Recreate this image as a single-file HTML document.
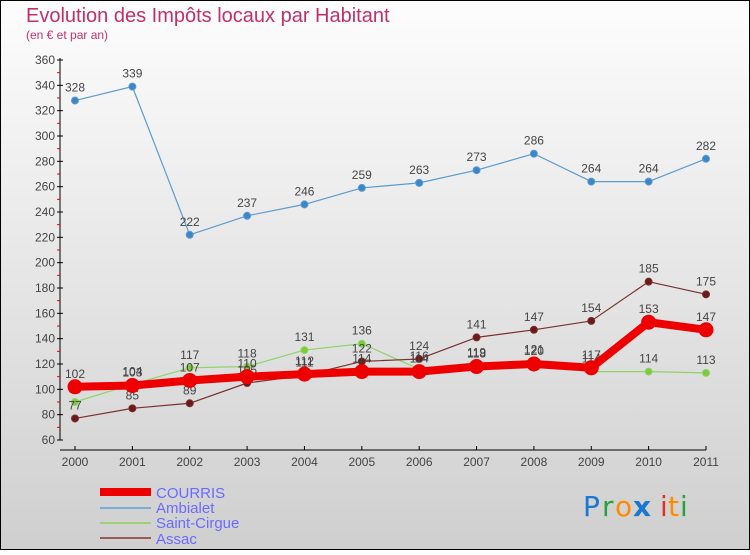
<!DOCTYPE html>
<html><head><meta charset="utf-8"><style>
body{margin:0;width:750px;height:550px;overflow:hidden;font-family:"Liberation Sans",sans-serif}
</style></head><body>
<svg width="750" height="550" viewBox="0 0 750 550">
<defs><linearGradient id="bg" x1="0" y1="0" x2="0" y2="1"><stop offset="0" stop-color="#fdfdfd"/><stop offset="1" stop-color="#cfcfcf"/></linearGradient></defs>
<rect x="0.5" y="0.5" width="749" height="549" fill="url(#bg)" stroke="#000"/>
<text x="26" y="22" font-size="20" fill="#c0306a">Evolution des Impôts locaux par Habitant</text>
<text x="26" y="39" font-size="12" fill="#c0306a">(en € et par an)</text>
<g id="axes"></g>
<g id="series"></g>
<g id="legend">
<rect x="100" y="488" width="51" height="8" fill="#e00"/>
<text x="156" y="498" font-size="15" fill="#6a6aff">COURRIS</text>
<rect x="100" y="507" width="51" height="2" fill="#7aaed6"/>
<text x="156" y="513" font-size="15" fill="#6a6aff">Ambialet</text>
<rect x="100" y="522" width="51" height="2" fill="#9ed07a"/>
<text x="156" y="528" font-size="15" fill="#6a6aff">Saint-Cirgue</text>
<rect x="100" y="537" width="51" height="2" fill="#9a5a5a"/>
<text x="156" y="544" font-size="15" fill="#6a6aff">Assac</text>
</g>
<g font-size="28" font-family="'DejaVu Sans',sans-serif">
<text x="583" y="516" fill="#1a78d0">P</text><text x="602" y="516" fill="#2aa040">r</text><text x="615" y="516" fill="#ff8a00">o</text><text x="633" y="516" fill="#1a78d0" font-weight="bold">x</text><text x="660" y="516" fill="#e83020">i</text><text x="668" y="516" fill="#ff8a00">t</text><text x="680" y="516" fill="#2aa040">i</text>
</g>
</svg>
<script>
const years=["2000","2001","2002","2003","2004","2005","2006","2007","2008","2009","2010","2011"];
const yTicks=[60,80,100,120,140,160,180,200,220,240,260,280,300,320,340,360];
const courris=[102,103,107,110,112,114,114,118,120,117,153,147];
const ambialet=[328,339,222,237,246,259,263,273,286,264,264,282];
const saintCirgue=[90,104,117,118,131,136,116,119,121,114,114,113];
const assac=[77,85,89,105,111,122,124,141,147,154,185,175];
const NS="http://www.w3.org/2000/svg";
const xS=i=>75+i*(706-75)/11;
const yS=v=>440-(v-60)*(380/300);
function mk(tag,attrs,parent){const e=document.createElementNS(NS,tag);for(const k in attrs)e.setAttribute(k,attrs[k]);parent.appendChild(e);return e;}
const ax=document.getElementById('axes');
let l=mk('line',{x1:60,y1:58,x2:60,y2:440,stroke:'#000'},ax);


l=mk('line',{x1:60,y1:450,x2:706,y2:450,stroke:'#000'},ax);


yTicks.forEach((v,i)=>{const y=yS(v);
 mk('line',{x1:57,y1:y,x2:63,y2:y,stroke:'#000'},ax);
 if(i<yTicks.length-1)mk('line',{x1:57,y1:y-12.67,x2:60,y2:y-12.67,stroke:'#e00'},ax);
 const t=mk('text',{x:55,y:y+4,'font-size':12,fill:'#444','text-anchor':'end'},ax);t.textContent=v;
 
 });
years.forEach((yr,i)=>{const x=xS(i);
 mk('line',{x1:x,y1:446,x2:x,y2:450,stroke:'#000'},ax);
 const t=mk('text',{x:x,y:466,'font-size':12,fill:'#444','text-anchor':'middle'},ax);t.textContent=yr;
 
 });
const sg=document.getElementById('series');
function draw(name,data,color,w,r,dot){
 const g=mk('g',{},sg);
 
 
 mk('polyline',{points:data.map((v,i)=>xS(i)+','+yS(v)).join(' '),fill:'none',stroke:color,'stroke-width':w,'stroke-linejoin':'round'},g);
 data.forEach((v,i)=>{const c=mk('circle',{cx:xS(i),cy:yS(v),r:r,fill:dot,stroke:color,'stroke-width':1},g);
 
 
 const t=mk('text',{x:xS(i),y:yS(v)-9,'font-size':12,fill:'#444','text-anchor':'middle'},g);t.textContent=v;
 
 });
}
draw('ambialet',ambialet,'#5b9bd0',1.2,3.5,'#3d86c6');
draw('saint-cirgue',saintCirgue,'#8fd46a',1.2,3.5,'#7ecb3a');
draw('assac',assac,'#7a3030',1.2,3.5,'#6a1a1a');
draw('courris',courris,'#ee0000',8,7,'#ee0000');
</script>
</body></html>
